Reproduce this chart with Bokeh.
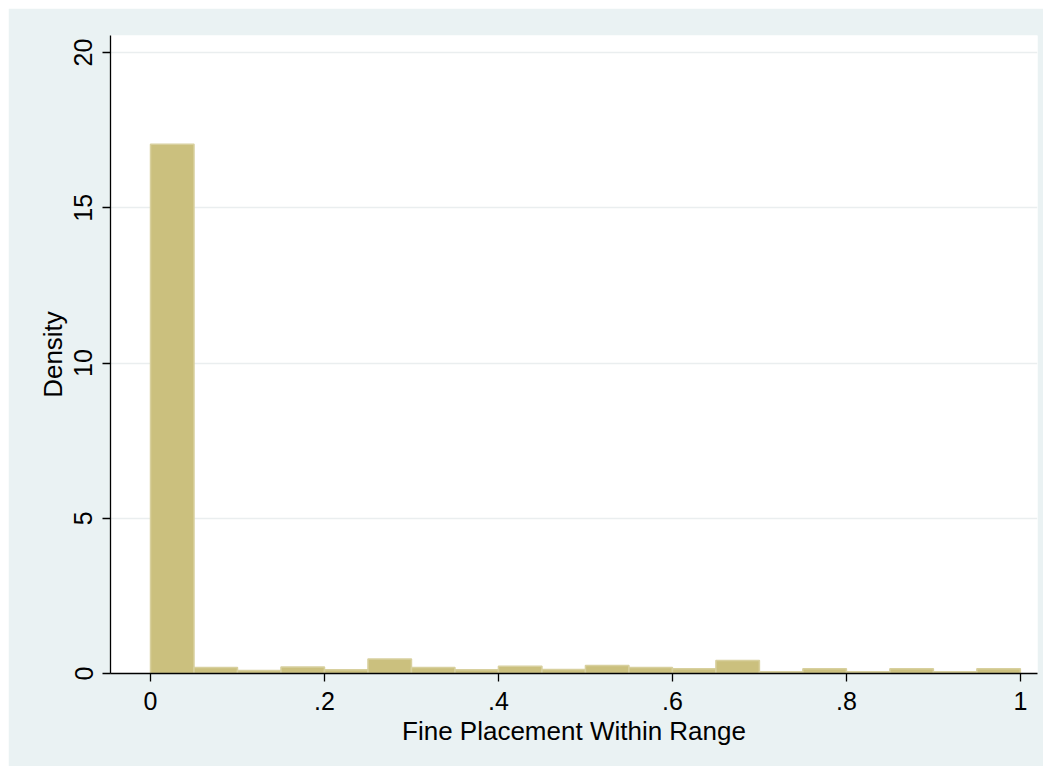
from bokeh.plotting import figure
from bokeh.models import FixedTicker, ColumnDataSource, Range1d
from bokeh.embed import file_html
from bokeh.resources import INLINE

bin_left = [0.00, 0.05, 0.10, 0.15, 0.20, 0.25, 0.30, 0.35, 0.40, 0.45,
            0.50, 0.55, 0.60, 0.65, 0.70, 0.75, 0.80, 0.85, 0.90, 0.95]
density = [17.05, 0.19, 0.10, 0.21, 0.12, 0.47, 0.19, 0.12, 0.235, 0.13,
           0.26, 0.19, 0.15, 0.42, 0.06, 0.15, 0.06, 0.15, 0.06, 0.15]
bin_width = 0.05
x_ticks = [0, 0.2, 0.4, 0.6, 0.8, 1.0]
x_tick_labels = ["0", ".2", ".4", ".6", ".8", "1"]
y_ticks = [0, 5, 10, 15, 20]

src = ColumnDataSource(dict(
    left=bin_left,
    right=[b + bin_width for b in bin_left],
    top=density,
    bottom=[0] * len(density),
))

p = figure(width=1035, height=758, output_backend="svg", toolbar_location=None,
           x_range=Range1d(-0.046, 1.0197), y_range=Range1d(0, 20.55),
           min_border_left=102, min_border_right=6, min_border_top=27, min_border_bottom=93)
p.margin = (8, 8, 8, 8)
p.background_fill_color = "white"
p.border_fill_color = "#EAF2F3"
p.outline_line_color = None

p.quad(left="left", right="right", top="top", bottom="bottom", source=src,
       fill_color="#CBC07E", line_color="#D8D09E", line_width=1.5)

font = "Liberation Sans"
p.xaxis.ticker = FixedTicker(ticks=x_ticks)
p.xaxis.major_label_overrides = {t: l for t, l in zip(x_ticks, x_tick_labels)}
p.yaxis.ticker = FixedTicker(ticks=y_ticks)
p.yaxis.major_label_orientation = "vertical"

for ax in (p.xaxis, p.yaxis):
    ax.axis_line_color = "black"
    ax.axis_line_width = 1.3
    ax.major_tick_line_color = "black"
    ax.major_tick_line_width = 1.3
    ax.major_tick_out = 8
    ax.major_tick_in = 0
    ax.minor_tick_line_color = None
    ax.major_label_text_font = font
    ax.major_label_text_font_size = "25px"
    ax.major_label_text_color = "black"
    ax.axis_label_text_font = font
    ax.axis_label_text_font_size = "26px"
    ax.axis_label_text_font_style = "normal"
    ax.axis_label_text_color = "black"

p.xaxis.major_label_standoff = 10
p.yaxis.major_label_standoff = 10
p.xaxis.axis_label = "Fine Placement Within Range"
p.yaxis.axis_label = "Density"
p.xaxis.axis_label_standoff = 3
p.yaxis.axis_label_standoff = 4

p.xgrid.grid_line_color = None
p.ygrid.grid_line_color = "#EAEEEF"
p.ygrid.grid_line_width = 1.5

open("out.html", "w").write(file_html(p, INLINE))
